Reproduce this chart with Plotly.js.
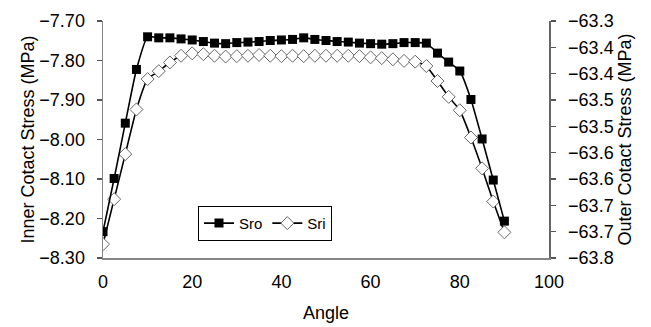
<!DOCTYPE html>
<html>
<head>
<meta charset="utf-8">
<script src="https://cdn.plot.ly/plotly-3.0.1.min.js"></script>
<style>
  html, body { margin: 0; padding: 0; background: #fff; }
  #chart { width: 651px; height: 327px; }
</style>
</head>
<body>
<div id="chart"></div>
<script>
// Contact angle in degrees
const angle = [0, 2.5, 5, 7.5, 10, 12.5, 15, 17.5, 20, 22.5, 25, 27.5, 30, 32.5, 35, 37.5,
  40, 42.5, 45, 47.5, 50, 52.5, 55, 57.5, 60, 62.5, 65, 67.5, 70, 72.5, 75, 77.5, 80,
  82.5, 85, 87.5, 90];

// Outer contact stress (MPa), right axis
const sro = [-63.730, -63.629, -63.524, -63.422, -63.360, -63.362, -63.362, -63.364, -63.366,
  -63.369, -63.372, -63.373, -63.371, -63.370, -63.369, -63.367, -63.366, -63.365, -63.362,
  -63.365, -63.367, -63.369, -63.370, -63.372, -63.373, -63.374, -63.373, -63.371, -63.371,
  -63.372, -63.391, -63.408, -63.425, -63.479, -63.554, -63.632, -63.710];

// Inner contact stress (MPa), left axis
const sri = [-8.265, -8.151, -8.037, -7.924, -7.847, -7.827, -7.805, -7.788, -7.782, -7.784,
  -7.788, -7.790, -7.789, -7.788, -7.786, -7.788, -7.789, -7.788, -7.789, -7.788, -7.788,
  -7.788, -7.788, -7.789, -7.792, -7.794, -7.797, -7.801, -7.803, -7.814, -7.852, -7.892,
  -7.926, -7.995, -8.073, -8.157, -8.235];

const seriesNames = ['Sro', 'Sri'];
const xTitle = 'Angle';
const yLeftTitle = 'Inner Cotact Stress (MPa)';
const yRightTitle = 'Outer Cotact Stress (MPa)';

const FONT = 'Arial, "Liberation Sans", sans-serif';
const AXIS_COLOR = '#868686';

const traces = [
  {
    x: angle, y: sro, name: seriesNames[0], yaxis: 'y2',
    mode: 'lines+markers', type: 'scatter',
    line: { color: '#000', width: 1.6, shape: 'spline', smoothing: 0.5 },
    marker: { symbol: 'square', size: 9, color: '#000', line: { color: '#000', width: 0 } }
  },
  {
    x: angle, y: sri, name: seriesNames[1], yaxis: 'y',
    mode: 'lines+markers', type: 'scatter',
    line: { color: '#000', width: 1.6, shape: 'spline', smoothing: 0.5 },
    marker: { symbol: 'diamond', size: 10, color: '#fff', line: { color: '#666', width: 1 } }
  }
];

const layout = {
  width: 651, height: 327,
  margin: { l: 103, r: 102, t: 21, b: 69 },
  paper_bgcolor: '#fff', plot_bgcolor: '#fff',
  font: { family: FONT, size: 18, color: '#000' },
  showlegend: true,
  legend: {
    orientation: 'h', x: 0.213, y: 0.22, xanchor: 'left', yanchor: 'top',
    bordercolor: '#000', borderwidth: 1, bgcolor: '#fff',
    font: { family: FONT, size: 15, color: '#000' },
    itemwidth: 30, traceorder: 'normal'
  },
  xaxis: {
    range: [0, 100], dtick: 20, tick0: 0,
    showline: true, linecolor: AXIS_COLOR, linewidth: 1.5,
    ticks: '', showgrid: false, zeroline: false,
    ticklabelstandoff: 7,
    title: { text: xTitle, font: { family: FONT, size: 18 }, standoff: 15 },
    automargin: false
  },
  xaxis2: {
    overlaying: 'x', side: 'top', anchor: 'y',
    range: [0, 100], dtick: 20, tick0: 0,
    showline: true, linecolor: AXIS_COLOR, linewidth: 1.5,
    ticks: 'inside', ticklen: 5, tickwidth: 1.2, tickcolor: '#555',
    showticklabels: false, showgrid: false, zeroline: false
  },
  yaxis: {
    range: [-8.30, -7.70], dtick: 0.1, tick0: -8.30, tickformat: '.2f',
    showline: true, linecolor: AXIS_COLOR, linewidth: 1.5,
    ticks: 'outside', ticklen: 5, tickwidth: 1.2, tickcolor: '#555',
    ticklabelstandoff: 8,
    showgrid: false, zeroline: false,
    title: { text: yLeftTitle, font: { family: FONT, size: 18 }, standoff: 0 },
    automargin: false
  },
  yaxis2: {
    overlaying: 'y', side: 'right', anchor: 'x',
    range: [-63.78, -63.33], dtick: 0.05, tick0: -63.78, tickformat: '.1f',
    showline: true, linecolor: '#666', linewidth: 1.5,
    ticks: 'outside', ticklen: 5, tickwidth: 1.2, tickcolor: '#555',
    ticklabelstandoff: 9,
    showgrid: false, zeroline: false,
    title: { text: yRightTitle, font: { family: FONT, size: 18 }, standoff: 6 },
    automargin: false
  },
  yaxis3: {
    overlaying: 'y', side: 'right', anchor: 'x',
    range: [-63.78, -63.33], dtick: 0.05, tick0: -63.78,
    showline: false, ticks: 'inside', ticklen: 5, tickwidth: 1.2, tickcolor: '#555',
    showticklabels: false, showgrid: false, zeroline: false
  }
};

Plotly.newPlot('chart', traces, layout, { staticPlot: true, displayModeBar: false });
</script>
</body>
</html>
